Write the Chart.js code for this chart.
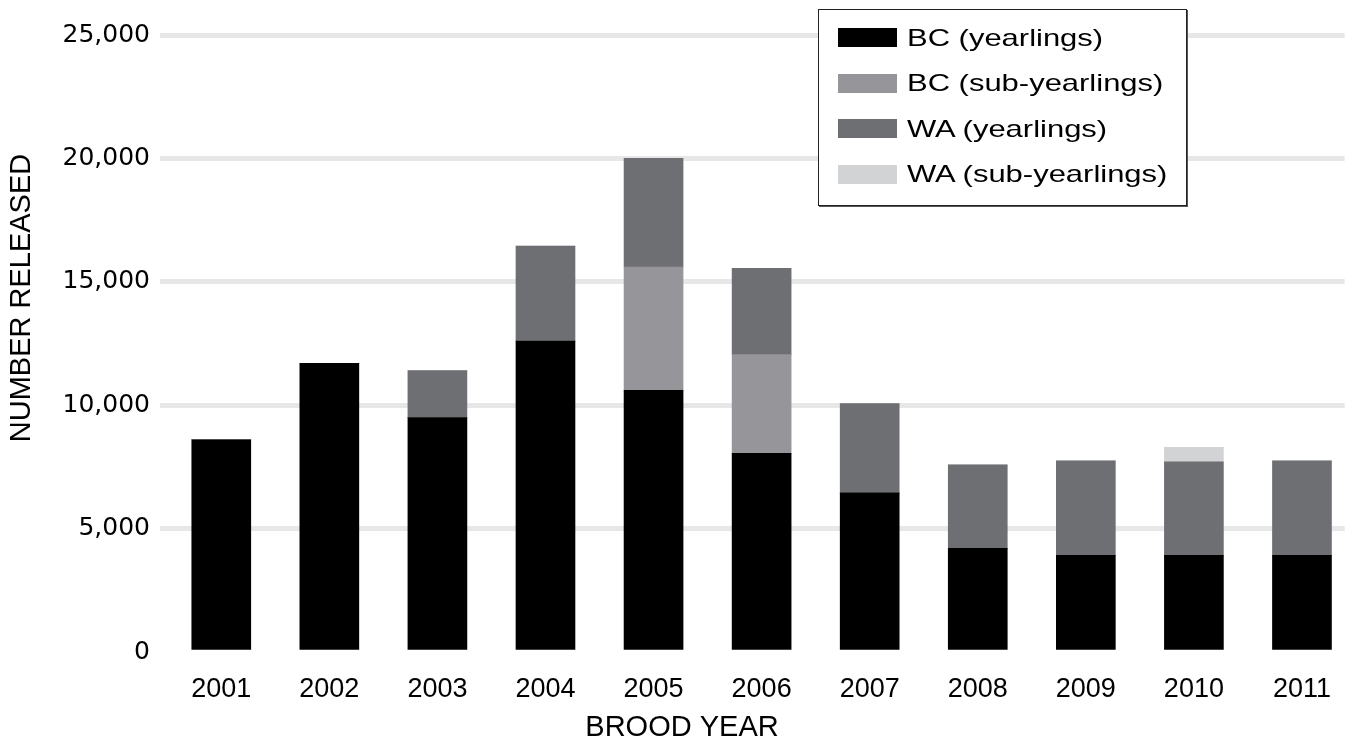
<!DOCTYPE html>
<html>
<head>
<meta charset="utf-8">
<script src="https://cdn.jsdelivr.net/npm/chart.js@4.4.1/dist/chart.umd.min.js"></script>
<style>
  html, body { margin: 0; padding: 0; background: #fff; overflow: hidden; }
  #wrap { position: relative; width: 1352px; height: 742px; }
  #legend {
    position: absolute; left: 818px; top: 9px; width: 367px; height: 190px;
    border: 1px solid #222; box-shadow: 1px 1px 0 #555; background: #fff;
    box-sizing: content-box; padding-top: 5px;
  }
  .row { display: flex; align-items: center; height: 45.5px; padding-left: 19px; }
  .sw { width: 59px; height: 19px; flex: none; }
  .lbl {
    margin-left: 10px; font: 24px "Liberation Sans", Arial, sans-serif; color: #000;
    display: inline-block; transform: scaleX(1.29); transform-origin: left center; white-space: nowrap;
  }
</style>
</head>
<body>
<div id="wrap">
  <canvas id="c" width="1352" height="742"></canvas>
  <div id="legend"></div>
</div>
<script>
// brood years and fish released per group
var years = [2001, 2002, 2003, 2004, 2005, 2006, 2007, 2008, 2009, 2010, 2011];
var bcYearlings    = [8600, 11700, 9500, 12600, 10600, 8050, 6450, 4200, 3920, 3920, 3920];
var bcSubYearlings = [0, 0, 0, 0, 5000, 4000, 0, 0, 0, 0, 0];
var waYearlings    = [0, 0, 1900, 3850, 4400, 3500, 3620, 3380, 3830, 3790, 3830];
var waSubYearlings = [0, 0, 0, 0, 0, 0, 0, 0, 0, 580, 0];
var seriesNames = ['BC (yearlings)', 'BC (sub-yearlings)', 'WA (yearlings)', 'WA (sub-yearlings)'];
var yTicks = [0, 5000, 10000, 15000, 20000, 25000];
var xTitle = 'BROOD YEAR';
var yTitle = 'NUMBER RELEASED';

var colors = ['#000000', '#96969a', '#6e6f73', '#d2d3d5'];
var seriesData = [bcYearlings, bcSubYearlings, waYearlings, waSubYearlings];

var datasets = [];
for (var i = 0; i < seriesData.length; i++) {
  datasets.push({
    label: seriesNames[i],
    data: seriesData[i],
    backgroundColor: colors[i],
    borderWidth: 0,
    barThickness: 59
  });
}

// x range: the bars sit a little right of the grid start in the original
var xMin = 2000.433;
var xMax = 2011.395;

// axis titles sit off-centre in the original, so they are drawn here
var axisTitles = {
  id: 'axisTitles',
  afterDraw: function (chart) {
    var ctx = chart.ctx;
    ctx.save();
    ctx.fillStyle = '#000';
    ctx.font = '29px "Liberation Sans", Arial, sans-serif';
    ctx.textAlign = 'center';
    ctx.textBaseline = 'middle';
    ctx.fillText(xTitle, 682, 728);
    ctx.translate(22, 298);
    ctx.rotate(-Math.PI / 2);
    ctx.fillText(yTitle, 0, 0);
    ctx.restore();
  }
};

var htmlLegend = {
  id: 'htmlLegend',
  afterUpdate: function (chart) {
    var box = document.getElementById('legend');
    box.innerHTML = '';
    var items = chart.options.plugins.legend.labels.generateLabels(chart);
    items.forEach(function (item) {
      var row = document.createElement('div');
      row.className = 'row';
      var sw = document.createElement('span');
      sw.className = 'sw';
      sw.style.background = item.fillStyle;
      var t = document.createElement('span');
      t.className = 'lbl';
      t.textContent = item.text;
      row.appendChild(sw);
      row.appendChild(t);
      box.appendChild(row);
    });
  }
};

var myChart = new Chart(document.getElementById('c'), {
  type: 'bar',
  data: { labels: years, datasets: datasets },
  options: {
    responsive: false,
    animation: false,
    layout: { padding: { top: 35, right: 0, left: 0, bottom: 0 } },
    plugins: { legend: { display: false }, tooltip: { enabled: false } },
    scales: {
      x: {
        type: 'linear',
        stacked: true,
        offset: false,
        bounds: 'data',
        min: xMin,
        max: xMax,
        grid: { display: false, drawTicks: false, offset: false },
        border: { display: false },
        afterBuildTicks: function (scale) {
          scale.ticks = years.map(function (v) { return { value: v }; });
          scale.min = xMin;
          scale.max = xMax;
        },
        afterFit: function (scale) { scale.height = 90; },
        ticks: {
          padding: 21,
          color: '#000',
          font: { family: '"Liberation Sans", Arial, sans-serif', size: 27 },
          callback: function (v) { return String(v); }
        }
      },
      y: {
        stacked: true,
        min: 0,
        max: 25000,
        afterBuildTicks: function (scale) {
          scale.ticks = yTicks.map(function (v) { return { value: v }; });
        },
        afterFit: function (scale) { scale.width = 160; },
        grid: {
          drawTicks: false,
          lineWidth: 5,
          color: function (c) { return c.tick && c.tick.value === 0 ? 'rgba(0,0,0,0)' : '#e7e7e7'; }
        },
        border: { display: false },
        ticks: {
          padding: 10,
          color: '#000',
          font: { family: '"DejaVu Sans", sans-serif', size: 25 },
          callback: function (v) { return v.toLocaleString('en-US'); }
        }
      }
    }
  },
  plugins: [axisTitles, htmlLegend]
});
</script>
</body>
</html>
